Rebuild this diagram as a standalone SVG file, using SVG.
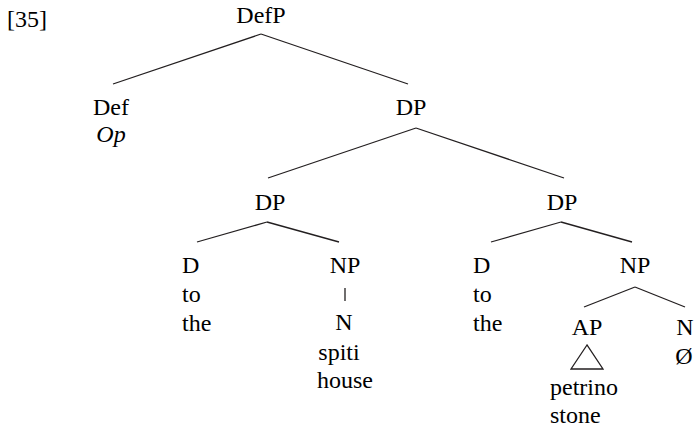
<svg xmlns="http://www.w3.org/2000/svg" width="695" height="427" viewBox="0 0 695 427">
<rect width="695" height="427" fill="#fff"/>
<text x="7" y="27" font-size="24" font-family="Times New Roman">[35]</text>
<g id="connectors" stroke="#231f20" stroke-width="1.3" fill="none">
<line x1="261" y1="34" x2="113" y2="84"/>
<line x1="261" y1="34" x2="408" y2="84"/>
<line x1="416" y1="128" x2="268" y2="178"/>
<line x1="416" y1="128" x2="564" y2="178"/>
<line x1="267" y1="222" x2="197" y2="242"/>
<line x1="267" y1="222" x2="339" y2="242"/>
<line x1="561" y1="222" x2="491" y2="242"/>
<line x1="561" y1="222" x2="632" y2="242"/>
<line x1="635" y1="287" x2="584" y2="307"/>
<line x1="635" y1="287" x2="685" y2="307"/>
<line x1="345" y1="288" x2="345" y2="301"/>
</g>
<g id="defp"><text x="261" y="23" font-size="24" font-family="Times New Roman" text-anchor="middle">DefP</text></g>
<g id="def"><text x="111" y="115" font-size="24" font-family="Times New Roman" text-anchor="middle">Def</text><text x="111" y="142" font-size="24" font-family="Times New Roman" text-anchor="middle" font-style="italic">Op</text></g>
<g id="dp-top"><text x="411" y="115" font-size="24" font-family="Times New Roman" text-anchor="middle">DP</text></g>
<g id="dp-left"><text x="270" y="210" font-size="24" font-family="Times New Roman" text-anchor="middle">DP</text></g>
<g id="dp-right"><text x="562" y="210" font-size="24" font-family="Times New Roman" text-anchor="middle">DP</text></g>
<g id="d-left"><text x="182" y="273" font-size="24" font-family="Times New Roman">D</text><text x="182" y="302" font-size="24" font-family="Times New Roman">to</text><text x="182" y="331" font-size="24" font-family="Times New Roman">the</text></g>
<g id="np-left"><text x="345" y="273" font-size="24" font-family="Times New Roman" text-anchor="middle">NP</text></g>
<g id="n-left"><text x="344" y="330" font-size="24" font-family="Times New Roman" text-anchor="middle">N</text><text x="339" y="360" font-size="24" font-family="Times New Roman" text-anchor="middle">spiti</text><text x="345" y="388" font-size="24" font-family="Times New Roman" text-anchor="middle">house</text></g>
<g id="d-right"><text x="473" y="273" font-size="24" font-family="Times New Roman">D</text><text x="473" y="302" font-size="24" font-family="Times New Roman">to</text><text x="473" y="331" font-size="24" font-family="Times New Roman">the</text></g>
<g id="np-right"><text x="635" y="273" font-size="24" font-family="Times New Roman" text-anchor="middle">NP</text></g>
<g id="ap"><text x="587" y="335" font-size="24" font-family="Times New Roman" text-anchor="middle">AP</text><polygon points="587,345 571,369 603,369" stroke="#231f20" stroke-width="1.3" fill="none"/><text x="550" y="395" font-size="24" font-family="Times New Roman">petrino</text><text x="550" y="423" font-size="24" font-family="Times New Roman">stone</text></g>
<g id="n-right"><text x="685" y="335" font-size="24" font-family="Times New Roman" text-anchor="middle">N</text><text x="684" y="364" font-size="24" font-family="Times New Roman" text-anchor="middle">Ø</text></g>
</svg>
